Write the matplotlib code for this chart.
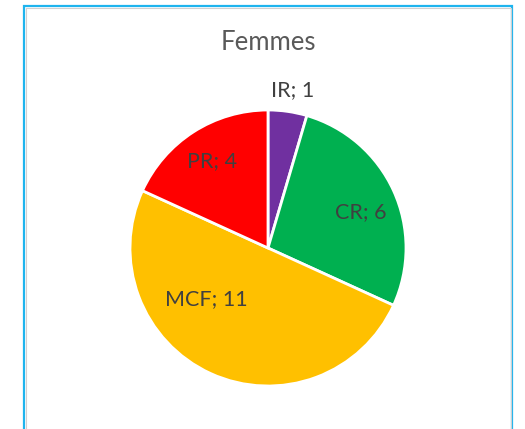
import matplotlib
matplotlib.use("Agg")
import matplotlib.pyplot as plt
from matplotlib.lines import Line2D
import numpy as np

categories = ["IR", "CR", "MCF", "PR"]
values = [1, 6, 11, 4]
colors = ["#7030A0", "#00B050", "#FFC000", "#FF0000"]
title = "Femmes"

W, H = 525, 429
fig = plt.figure(figsize=(W / 100, H / 100), dpi=100)
ax = fig.add_axes([0, 0, 1, 1])

cx, cy, r = 268, H - 248, 138
wedges, texts = ax.pie(values, colors=colors, startangle=90, counterclock=False,
                       center=(cx, cy), radius=r, frame=True,
                       labels=[f"{c}; {v}" for c, v in zip(categories, values)],
                       labeldistance=0.7,
                       wedgeprops=dict(edgecolor="white", linewidth=2),
                       textprops=dict(color="#404040", fontsize=15.5, family=["Lato", "DejaVu Sans"]))
ax.set_xlim(0, W)
ax.set_ylim(0, H)
ax.set_aspect("equal")
ax.axis("off")

# label placement (distance as fraction of radius, angle in degrees)
placements = {"IR": (1.16, 81), "CR": (0.72, 21), "MCF": (0.58, 220), "PR": (0.75, 122.5)}
for t, c in zip(texts, categories):
    d, a = placements[c]
    t.set_position((cx + d * r * np.cos(np.radians(a)), cy + d * r * np.sin(np.radians(a))))
    t.set_ha("center")
    t.set_va("center")

ax.text(268, H - 42, title, ha="center", va="center", fontsize=18.5, color="#595959",
        family=["Lato", "DejaVu Sans"])

# chart frame
ax.add_line(Line2D([24.3, 24.3, 512, 512], [0, H - 6.2, H - 6.2, 0], color="#1EB4EE", lw=1.6,
                   solid_joinstyle="miter"))
ax.add_line(Line2D([26.3, 26.3, 510.5, 510.5], [0, H - 7.8, H - 7.8, 0], color="#D0D0D0", lw=0.8))

fig.savefig("out.png", dpi=100)
